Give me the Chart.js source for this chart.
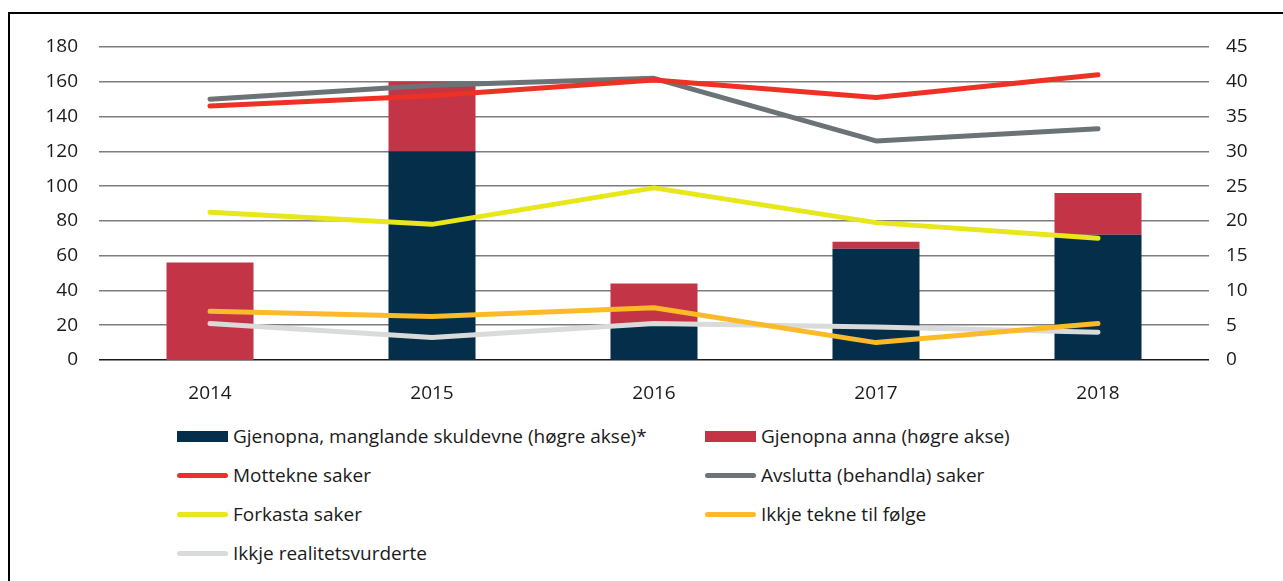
<!DOCTYPE html>
<html>
<head>
<meta charset="utf-8">
<script src="https://cdn.jsdelivr.net/npm/chart.js@4"></script>
<style>
  html, body { margin: 0; padding: 0; background: #fff; overflow: hidden; }
  body { width: 1283px; height: 581px; position: relative; font-family: "Open Sans", sans-serif; }
  #ramme { position: absolute; left: 8px; top: 12px; width: 1300px; height: 620px; border: 2px solid #000; }
  #wrap { position: absolute; left: 0; top: 0; width: 1283px; height: 410px; }
  #legende { position: absolute; left: 177px; top: 423px; display: grid; grid-template-columns: 528px 400px; grid-auto-rows: 39px; }
  .item { display: flex; align-items: center; height: 26px; font-size: 19px; color: #1a1a1a; white-space: nowrap; }
  .swatch { width: 51px; margin-right: 5px; flex: none; }
</style>
</head>
<body>
<div id="ramme"></div>
<div id="wrap"><canvas id="graf"></canvas></div>
<div id="legende"></div>
<script>
var aar = ["2014", "2015", "2016", "2017", "2018"];

// søyler (høgre akse)
var gjenopnaSkuldevne = [0, 30, 5, 16, 18];
var gjenopnaAnna = [14, 10, 6, 1, 6];

// linjer (venstre akse)
var mottekne = [146, 152, 161, 151, 164];
var avslutta = [150, 158, 162, 126, 133];
var forkasta = [85, 78, 99, 79, 70];
var ikkjeTekne = [28, 25, 30, 10, 21];
var ikkjeRealitet = [21, 13, 21, 19, 16];

var venstreTicks = [0, 20, 40, 60, 80, 100, 120, 140, 160, 180];
var hogreTicks = [0, 5, 10, 15, 20, 25, 30, 35, 40, 45];

function linje(label, data, farge) {
    return {
        type: "line",
        label: label,
        data: data,
        yAxisID: "y",
        borderColor: farge,
        backgroundColor: farge,
        borderWidth: 5,
        borderCapStyle: "round",
        borderJoinStyle: "round",
        pointRadius: 0,
        tension: 0,
        order: 1
    };
}

var ctx = document.getElementById("graf").getContext("2d");

var minGraf = new Chart(ctx, {
    type: "bar",
    data: {
        labels: aar,
        datasets: [
            {
                label: "Gjenopna, manglande skuldevne (høgre akse)*",
                data: gjenopnaSkuldevne,
                yAxisID: "y1",
                backgroundColor: "#052e4a",
                stack: "s",
                order: 2
            },
            {
                label: "Gjenopna anna (høgre akse)",
                data: gjenopnaAnna,
                yAxisID: "y1",
                backgroundColor: "#c33546",
                stack: "s",
                order: 2
            },
            linje("Mottekne saker", mottekne, "#ee3124"),
            linje("Avslutta (behandla) saker", avslutta, "#6b7377"),
            linje("Forkasta saker", forkasta, "#e8e71b"),
            linje("Ikkje tekne til følge", ikkjeTekne, "#fbba27"),
            linje("Ikkje realitetsvurderte", ikkjeRealitet, "#d9dada")
        ]
    },
    options: {
        responsive: true,
        maintainAspectRatio: false,
        animation: false,
        layout: { padding: { top: 47, left: 0, right: 0, bottom: 0 } },
        datasets: { bar: { categoryPercentage: 1, barPercentage: 0.392 } },
        plugins: { legend: { display: false }, tooltip: { enabled: false } },
        scales: {
            x: {
                stacked: true,
                grid: { display: false },
                border: { display: false },
                ticks: { padding: 14, color: "#1a1a1a", font: { family: "Open Sans", size: 19 } },
                afterFit: function (s) { s.height = 50; }
            },
            y: {
                position: "left",
                min: 0,
                max: 180,
                afterBuildTicks: function (s) { s.ticks = venstreTicks.map(function (v) { return { value: v }; }); },
                grid: {
                    drawTicks: false,
                    lineWidth: 1.5,
                    color: function (c) { return c.tick && c.tick.value === 0 ? "#1a1a1a" : "#7d7d7d"; }
                },
                border: { display: false },
                ticks: { padding: 21, color: "#1a1a1a", font: { family: "Open Sans", size: 19 } },
                afterFit: function (s) { s.width = 99; }
            },
            y1: {
                position: "right",
                stacked: true,
                min: 0,
                max: 45,
                afterBuildTicks: function (s) { s.ticks = hogreTicks.map(function (v) { return { value: v }; }); },
                grid: { display: false, drawTicks: false },
                border: { display: false },
                ticks: { padding: 17, color: "#1a1a1a", font: { family: "Open Sans", size: 19 } },
                afterFit: function (s) { s.width = 74; }
            }
        }
    }
});

// eigen legende i to kolonnar
var legende = document.getElementById("legende");
minGraf.data.datasets.forEach(function (ds) {
    var item = document.createElement("div");
    item.className = "item";
    var sw = document.createElement("span");
    sw.className = "swatch";
    if (ds.type === "line") {
        sw.style.height = "5px";
        sw.style.borderRadius = "3px";
        sw.style.background = ds.borderColor;
    } else {
        sw.style.height = "11px";
        sw.style.background = ds.backgroundColor;
    }
    var txt = document.createElement("span");
    txt.textContent = ds.label;
    item.appendChild(sw);
    item.appendChild(txt);
    legende.appendChild(item);
});
</script>
</body>
</html>
